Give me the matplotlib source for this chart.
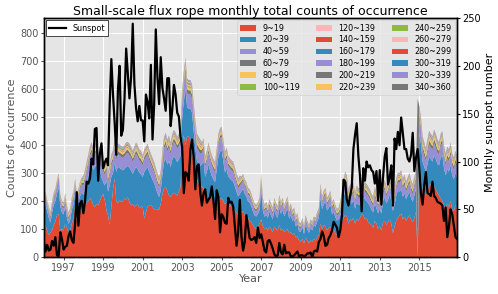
import numpy as np
import matplotlib
matplotlib.use("Agg")
import matplotlib.pyplot as plt

plt.style.use("ggplot")

# monthly counts, Jan 1996 .. Dec 2016 (one row per year)
d9_19 = [
    111, 115, 95, 79, 88, 97, 115, 127, 150, 155, 95, 100,
    95, 120, 105, 88, 95, 120, 140, 185, 130, 160, 165, 170,
    165, 180, 195, 200, 210, 205, 185, 180, 190, 185, 200, 215,
    225, 204, 168, 150, 115, 180, 240, 280, 200, 192, 204, 198,
    200, 210, 205, 215, 195, 185, 190, 180, 185, 190, 175, 180,
    180, 138, 160, 180, 185, 186, 180, 170, 168, 170, 170, 190,
    225, 245, 250, 235, 220, 215, 225, 230, 225, 220, 235, 250,
    400, 435, 400, 430, 430, 420, 370, 340, 322, 275, 263, 255,
    251, 245, 230, 215, 205, 220, 228, 200, 190, 195, 200, 210,
    210, 200, 190, 195, 185, 180, 190, 175, 165, 160, 150, 155,
    160, 165, 150, 145, 140, 130, 125, 115, 105, 100, 110, 120,
    135, 110, 100, 105, 95, 110, 100, 90, 110, 100, 95, 115,
    95, 100, 90, 95, 100, 85, 90, 80, 85, 70, 75, 60,
    55, 65, 50, 70, 60, 50, 60, 55, 65, 60, 70, 80,
    120, 100, 115, 110, 95, 105, 110, 90, 100, 85, 80, 90,
    110, 125, 140, 150, 145, 120, 135, 130, 140, 120, 135, 130,
    140, 155, 150, 135, 140, 125, 120, 115, 105, 130, 120, 100,
    110, 95, 125, 130, 115, 125, 135, 120, 85, 110, 130, 140,
    150, 155, 135, 145, 130, 140, 150, 135, 125, 140, 160, 0,
    290, 280, 240, 230, 220, 240, 255, 260, 245, 255, 240, 230,
    220, 210, 200, 185, 175, 190, 180, 200, 170, 165, 185, 170,
]
d20_39 = [
    44, 76, 69, 62, 35, 62, 71, 73, 77, 94, 87, 59,
    58, 62, 37, 31, 38, 49, 47, 42, 52, 36, 53, 62,
    57, 60, 72, 89, 106, 124, 126, 140, 143, 108, 116, 69,
    44, 52, 106, 84, 141, 107, 60, 56, 105, 131, 114, 116,
    110, 104, 118, 110, 124, 125, 107, 130, 138, 124, 126, 117,
    106, 166, 153, 142, 119, 105, 97, 94, 78, 58, 45, 48,
    69, 94, 102, 95, 123, 106, 123, 131, 127, 119, 113, 111,
    95, 120, 200, 105, 100, 110, 145, 110, 66, 68, 71, 70,
    80, 99, 56, 89, 126, 88, 62, 77, 78, 118, 158, 166,
    172, 142, 112, 120, 103, 101, 84, 95, 87, 74, 67, 70,
    75, 79, 76, 72, 59, 65, 56, 48, 44, 45, 44, 47,
    108, 57, 44, 48, 45, 52, 49, 45, 57, 49, 45, 61,
    60, 69, 56, 65, 73, 52, 61, 48, 52, 40, 44, 32,
    36, 44, 32, 48, 40, 37, 45, 41, 49, 49, 57, 61,
    92, 71, 74, 88, 72, 71, 79, 63, 62, 59, 51, 45,
    36, 48, 69, 91, 82, 62, 65, 61, 65, 53, 61, 57,
    47, 64, 78, 70, 61, 67, 63, 54, 55, 62, 54, 56,
    64, 61, 76, 84, 77, 80, 88, 81, 80, 77, 89, 97,
    84, 88, 81, 84, 77, 80, 84, 76, 73, 80, 83, 0,
    151, 125, 101, 93, 85, 92, 104, 90, 96, 109, 110, 102,
    108, 145, 164, 134, 117, 124, 125, 128, 122, 113, 116, 113,
]
d40_59 = [
    19, 23, 20, 18, 16, 20, 23, 24, 27, 30, 22, 20,
    20, 23, 18, 16, 17, 21, 23, 28, 23, 24, 27, 28,
    32, 34, 37, 40, 43, 45, 43, 44, 46, 41, 43, 40,
    38, 36, 38, 33, 36, 40, 42, 46, 42, 44, 44, 43,
    44, 45, 46, 46, 45, 44, 42, 44, 46, 45, 43, 42,
    41, 43, 44, 45, 43, 41, 40, 38, 36, 34, 32, 34,
    42, 47, 49, 46, 48, 45, 48, 50, 49, 47, 48, 50,
    55, 55, 60, 50, 50, 50, 50, 48, 50, 45, 44, 43,
    41, 43, 36, 38, 41, 39, 37, 35, 34, 39, 44, 46,
    47, 42, 38, 39, 36, 35, 35, 34, 32, 30, 28, 29,
    28, 29, 27, 26, 24, 23, 22, 20, 19, 18, 19, 21,
    30, 21, 19, 20, 18, 21, 19, 18, 21, 19, 18, 22,
    20, 21, 19, 20, 22, 18, 19, 17, 18, 15, 16, 13,
    13, 15, 12, 16, 14, 12, 14, 13, 15, 15, 17, 18,
    26, 22, 24, 25, 21, 22, 24, 20, 21, 19, 17, 18,
    21, 24, 28, 31, 30, 25, 27, 26, 27, 24, 26, 25,
    25, 28, 29, 27, 26, 25, 24, 23, 22, 25, 23, 21,
    23, 21, 26, 28, 25, 27, 29, 26, 22, 25, 28, 30,
    30, 31, 28, 30, 27, 29, 30, 28, 26, 29, 31, 0,
    50, 46, 40, 38, 36, 39, 42, 41, 40, 42, 41, 39,
    38, 41, 42, 37, 34, 37, 36, 38, 34, 33, 35, 33,
]

# the thinner bins, read per year (1996 .. 2016)
d60_79 = [7, 8, 11, 12, 12, 11, 13, 15, 11, 11, 8, 8, 7, 5, 8, 10, 10, 10, 11, 15, 13]
d80_99 = [4, 5, 6, 7, 7, 7, 8, 9, 7, 6, 5, 5, 4, 3, 5, 6, 6, 6, 6, 9, 8]
d100_119 = [2, 3, 4, 4, 4, 4, 5, 6, 4, 4, 3, 3, 3, 2, 3, 4, 4, 4, 4, 5, 5]
d120_139 = [2, 2, 3, 3, 3, 3, 3, 4, 3, 3, 2, 2, 2, 1, 2, 2, 2, 2, 3, 4, 3]
d140_159 = [1, 1, 2, 2, 2, 2, 2, 2, 2, 2, 1, 1, 1, 1, 1, 2, 2, 2, 2, 2, 2]
d160_179 = [1, 1, 1, 2, 2, 1, 2, 2, 1, 1, 1, 1, 1, 1, 1, 1, 1, 1, 1, 2, 2]
d180_199 = [1, 1, 1, 1, 1, 1, 2, 2, 1, 1, 1, 1, 1, 1, 1, 1, 1, 1, 1, 2, 1]
d200_219 = [1, 1, 1, 1, 2, 1, 1, 2, 1, 1, 1, 1, 1, 1, 1, 1, 1, 1, 1, 2, 1]
d220_239 = [1, 1, 1, 1, 1, 1, 1, 2, 1, 1, 1, 1, 1, 0, 1, 1, 1, 1, 1, 1, 1]
d240_259 = [0, 0, 1, 1, 1, 1, 1, 1, 1, 1, 0, 0, 0, 0, 0, 1, 1, 1, 1, 1, 1]
d260_279 = [0, 0, 1, 1, 1, 1, 1, 1, 1, 1, 0, 0, 0, 0, 0, 1, 1, 1, 1, 1, 1]
d280_299 = [0, 0, 1, 1, 1, 1, 1, 1, 1, 1, 0, 0, 0, 0, 0, 1, 1, 1, 1, 1, 1]
d300_319 = [0, 0, 1, 1, 1, 1, 1, 1, 1, 1, 0, 0, 0, 0, 0, 1, 1, 1, 1, 1, 1]
d320_339 = [0, 0, 1, 1, 1, 1, 1, 1, 1, 1, 0, 0, 0, 0, 0, 1, 1, 1, 1, 1, 1]
d340_360 = [1, 1, 1, 1, 1, 1, 1, 2, 1, 1, 1, 1, 1, 1, 1, 1, 1, 1, 1, 2, 2]

# Dec 2014: every event fell in the last bin
odd_month = 227
odd_value = 565

sunspot = [
    16, 6, 13, 7, 8, 17, 12, 21, 2, 1, 26, 19,
    8, 11, 12, 22, 27, 18, 15, 35, 68, 33, 56, 59,
    46, 58, 79, 77, 82, 103, 97, 134, 135, 80, 107, 119,
    93, 99, 103, 96, 160, 207, 170, 141, 107, 175, 200, 127,
    133, 166, 218, 192, 166, 188, 244, 181, 156, 142, 158, 143,
    143, 121, 170, 162, 145, 201, 123, 160, 238, 188, 160, 209,
    177, 166, 153, 187, 187, 137, 154, 180, 170, 151, 147, 126,
    115, 67, 89, 87, 80, 112, 123, 105, 71, 95, 97, 68,
    54, 67, 71, 57, 60, 63, 74, 59, 40, 70, 63, 26,
    45, 42, 36, 35, 62, 57, 58, 53, 32, 12, 26, 60,
    22, 7, 16, 44, 32, 20, 18, 19, 21, 15, 31, 20,
    24, 16, 7, 5, 17, 18, 14, 9, 3, 1, 2, 15,
    5, 3, 13, 4, 5, 5, 1, 1, 2, 4, 6, 1,
    2, 2, 1, 2, 4, 4, 5, 0, 6, 7, 6, 16,
    19, 27, 22, 12, 13, 20, 23, 28, 37, 34, 31, 21,
    28, 43, 81, 79, 60, 54, 64, 73, 113, 128, 140, 106,
    85, 48, 93, 80, 100, 94, 96, 91, 89, 77, 90, 59,
    91, 55, 84, 105, 114, 76, 83, 96, 54, 124, 113, 131,
    117, 146, 129, 113, 113, 103, 100, 107, 130, 90, 104, 113,
    93, 67, 55, 75, 89, 67, 66, 64, 79, 64, 62, 58,
    57, 56, 54, 38, 52, 21, 32, 50, 45, 33, 21, 19,
]

labels = ["9~19", "20~39", "40~59", "60~79", "80~99", "100~119",
          "120~139", "140~159", "160~179", "180~199", "200~219", "220~239",
          "240~259", "260~279", "280~299", "300~319", "320~339", "340~360"]

yearly = [d60_79, d80_99, d100_119, d120_139, d140_159, d160_179,
          d180_199, d200_219, d220_239, d240_259, d260_279, d280_299,
          d300_319, d320_339, d340_360]
layers = [np.array(d9_19, float), np.array(d20_39, float), np.array(d40_59, float)]
for yr in yearly:
    layers.append(np.repeat(np.array(yr, float), 12))
for lay in layers[3:]:
    lay[odd_month] = 0
layers[-1][odd_month] = odd_value

t = 1996 + np.arange(len(d9_19)) / 12

fig = plt.figure(figsize=(4.98, 2.94), dpi=100)
ax = fig.add_axes([0.088, 0.125, 0.830, 0.814])
ax.stackplot(t, *layers, labels=labels)
ax.set_xlim(t[0], t[-1])
ax.set_ylim(0, 853)
ax.set_xticks(np.arange(1997, 2016, 2))
ax.set_yticks(np.arange(0, 801, 100))
ax.tick_params(labelsize=7, colors="#555555", length=2, pad=2)
ax.set_xlabel("Year", fontsize=8, labelpad=1)
ax.set_ylabel("Counts of occurrence", fontsize=8, labelpad=2)
ax.set_title("Small-scale flux rope monthly total counts of occurrence",
             fontsize=9, pad=2)
for sp in ax.spines.values():
    sp.set_visible(True)
    sp.set_color("black")
    sp.set_linewidth(1)
ax.legend(loc="upper right", ncol=3, fontsize=5.8, labelspacing=0.35,
          borderaxespad=0.3, handlelength=2.0, columnspacing=2.0)

ax2 = ax.twinx()
ax2.plot(t, sunspot, color="black", lw=1.6, label="Sunspot")
ax2.set_ylim(0, 250)
ax2.grid(False)
ax2.tick_params(labelsize=7, colors="black", length=2, pad=1.5)
ax2.set_ylabel("Monthly sunspot number", fontsize=8, color="black")
ax2.yaxis.set_label_coords(1.068, 0.564)
for sp in ax2.spines.values():
    sp.set_color("black")
ax2.legend(loc="upper left", fontsize=5.8, borderaxespad=0.3,
           facecolor="white", edgecolor="black", framealpha=1, fancybox=False)

fig.savefig("out.png", dpi=100)
